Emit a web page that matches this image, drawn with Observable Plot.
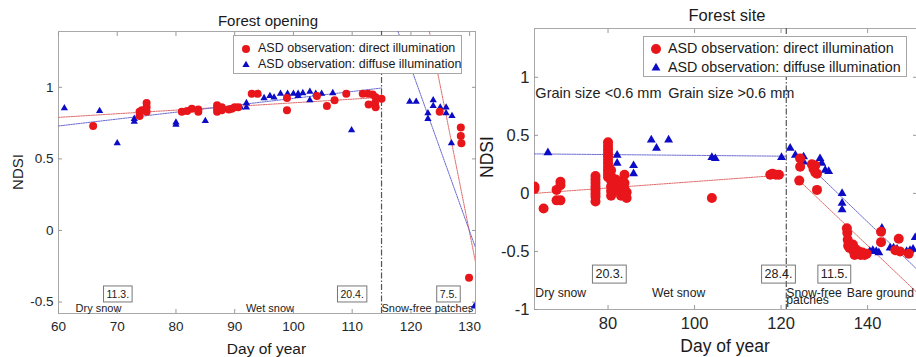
<!DOCTYPE html>
<html><head><meta charset="utf-8">
<script src="https://cdn.jsdelivr.net/npm/d3@7"></script>
<script src="https://cdn.jsdelivr.net/npm/@observablehq/plot@0.6"></script>
<style>
body{margin:0;background:#fff;font-family:"Liberation Sans",Arial,sans-serif;}
#wrap{position:relative;width:916px;height:357px;overflow:hidden;background:#fff;}
.panel{position:absolute;top:0;}
.lbl{position:absolute;white-space:nowrap;color:#1a1a1a;line-height:1;}
.legend{position:absolute;background:#fff;border:1px solid #a6a6a6;box-sizing:border-box;}
.legend .row{position:absolute;white-space:nowrap;color:#1a1a1a;line-height:1;}
.legend svg{position:absolute;overflow:visible;}
</style></head>
<body><div id="wrap"></div>
<script>
// ---------------- Forest opening (left panel) ----------------
const openDirectDay  = [65.9,73.8,73.8,74.2,75,75,75,81,81.9,82.7,83.8,83.8,87,87,87,87.8,87.8,89,89.5,90,90.6,92.9,93.9,98.9,98.9,104,105.7,107,109,111.8,112.7,113.5,114,112.8,114,115,113.9,124.9,128.5,128.5,128.6,129.9];
const openDirectNdsi = [0.73,0.80,0.83,0.84,0.89,0.86,0.83,0.83,0.835,0.85,0.845,0.83,0.874,0.85,0.83,0.86,0.84,0.845,0.85,0.86,0.86,0.955,0.955,0.925,0.84,0.94,0.87,0.91,0.955,0.955,0.955,0.95,0.93,0.88,0.86,0.92,0.89,0.83,0.72,0.66,0.61,-0.33];
const openDiffuseDay  = [61,67,70,72.9,72.9,80,80,85,91,92,92,94,95,96,96.7,97.8,99,100,100.8,100.8,101.6,102.8,102.8,103.8,104.8,106.7,109.9,119.8,120.9,122.9,122.9,123.8,123.8,125,126,126,127,126.9,130.8];
const openDiffuseNdsi = [0.855,0.835,0.61,0.78,0.76,0.755,0.74,0.765,0.86,0.89,0.86,0.955,0.925,0.94,0.93,0.955,0.955,0.955,0.94,0.955,0.96,0.97,0.91,0.955,0.955,0.96,0.70,0.90,0.90,0.82,0.78,0.91,0.87,0.86,0.86,0.82,0.80,0.61,-0.53];
// fitted lines: [series, day, ndsi]
const openFitSeries = ["direct","direct","diffuse","diffuse","directMelt","directMelt","diffuseMelt","diffuseMelt"];
const openFitDay    = [60,115,60,115,123.1,131,117.8,131];
const openFitNdsi   = [0.79,0.93,0.73,0.995,1.40,-0.22,1.39,-0.12];
const openSplitDay = [115];
const openDateLabels = ["11.3.","20.4.","7.5."];
const openDateDays   = [70.1,110,126.4];
const openPhaseLabels = ["Dry snow","Wet snow","Snow-free patches"];
const openPhaseDays   = [62.9,96,115];
const openPhaseAnchor = ["start","middle","start"];
const openXTicks = [60,70,80,90,100,110,120,130];
const openYTicks = [-0.5,0,0.5,1];

// ---------------- Forest site (right panel) ----------------
const siteDirectDay  = [63,63,65.1,68.1,68.1,69,69,69,
  77.1,77.1,77.1,77.1,77.1,77.1,77.1,77.1,
  80,80,80,80,80,80,80,80,80,80,80,
  80.7,80.7,80.7,80.7,80.7,80.7,81.8,81.8,81.8,83,83,83,83.8,83.8,83.8,84.3,84.3,
  104,117.5,118,118.8,119.5,124.4,124.4,124.2,127.1,127.5,127.9,128.3,127.9,128.3,
  135.2,135.3,135.4,135.5,135.8,136.4,136.8,137.2,137.6,138,138.4,138.8,139.3,139.8,136.6,137,
  143.1,143.1,147.2,146.4,147.5,149.5];
const siteDirectNdsi = [0.06,0.04,-0.13,0.03,-0.06,0.10,0.07,-0.06,
  0.15,0.12,0.09,0.06,0.03,0.0,-0.03,-0.07,
  0.44,0.41,0.38,0.35,0.32,0.29,0.26,0.23,0.20,0.17,0.14,
  0.20,0.15,0.11,0.06,0.02,-0.02,0.12,0.08,0.03,0.05,0.10,-0.02,0.16,0.09,0.04,0.01,-0.04,
  -0.04,0.16,0.17,0.16,0.16,0.30,0.23,0.11,0.25,0.21,0.18,0.17,0.24,0.03,
  -0.30,-0.34,-0.40,-0.45,-0.47,-0.47,-0.50,-0.48,-0.52,-0.50,-0.53,-0.51,-0.53,-0.52,-0.44,-0.53,
  -0.33,-0.42,-0.39,-0.49,-0.50,-0.52];
const siteDiffuseDay  = [66.1,82.1,82.1,85.9,85.9,90,91.2,94,104,104.8,120.1,122.1,123.3,125.2,125.2,129,129.4,130.2,131,134.1,134.1,134.1,143.3,140.5,141.2,142,142.6,145.2,146,146.8,149,149.8,150.5,151];
const siteDiffuseNdsi = [0.35,0.33,0.26,0.24,0.17,0.46,0.39,0.46,0.31,0.30,0.31,0.39,0.33,0.315,0.27,0.30,0.26,0.20,0.19,0.0,-0.085,-0.14,-0.30,-0.50,-0.49,-0.50,-0.51,-0.47,-0.47,-0.48,-0.50,-0.49,-0.48,-0.38];
const siteFitSeries = ["direct","direct","diffuse","diffuse","directMelt","directMelt","diffuseMelt","diffuseMelt"];
const siteFitDay    = [63,121.2,63,121.2,124.2,151.3,125.2,151.3];
const siteFitNdsi   = [0.0,0.16,0.34,0.32,0.11,-0.85,0.283,-0.65];
const siteSplitDay = [121.2];
const siteDateLabels = ["20.3.","28.4.","11.5."];
const siteDateDays   = [80.3,119.4,132.3];
const sitePhaseLabels = ["Dry snow","Wet snow","Snow-free\npatches","Bare ground"];
const sitePhaseDays   = [63.2,96.3,121.2,135.2];
const sitePhaseAnchor = ["start","middle","start","start"];
const siteGrainLabels = ["Grain size <0.6 mm","Grain size >0.6 mm"];
const siteGrainDays   = [63.2,93.9];
const siteXTicks = [80,100,120,140];
const siteYTicks = [-1,-0.5,0,0.5,1];

const legendLabels = ["ASD observation: direct illumination","ASD observation: diffuse illumination"];
const RED = "#e8161b", BLUE = "#0c0cc6";
const FONT = "'Liberation Sans', Arial, sans-serif";

function rows(days, vals, extra) { return days.map((d,i)=>Object.assign({day:d, v:vals[i]}, extra?extra(i):{})); }

function panel(cfg) {
  const fits = rows(cfg.fitDay, cfg.fitNdsi, i=>({s:cfg.fitSeries[i]}));
  const fitColor = {direct:"#e06a6a", directMelt:"#e06a6a", diffuse:"#6a6ad0", diffuseMelt:"#6a6ad0"};
  const dates = cfg.dateDays.map((d,i)=>({day:d, t:cfg.dateLabels[i]}));
  const phases = cfg.phaseDays.map((d,i)=>({day:d, t:cfg.phaseLabels[i], a:cfg.phaseAnchor[i]}));
  const marks = [
    Plot.frame({stroke:"#a8a8a8"}),
    Plot.axisX(cfg.xTicks, {anchor:"bottom", tickSize:0, tickPadding:cfg.xPad, label:null, fontSize:cfg.tickFont}),
    Plot.axisX(cfg.xTicks, {anchor:"bottom", tickSize:-4, tickFormat:()=>"", label:null, stroke:"#999"}),
    Plot.axisX(cfg.xTicks, {anchor:"top", tickSize:-4, tickFormat:()=>"", label:null, stroke:"#999"}),
    Plot.axisY(cfg.yTicks, {anchor:"left", tickSize:0, tickPadding:cfg.yPad, label:null, fontSize:cfg.tickFont, tickFormat:d=>String(d)}),
    Plot.axisY(cfg.yTicks, {anchor:"left", tickSize:-4, tickFormat:()=>"", label:null, stroke:"#999"}),
    Plot.axisY(cfg.yTicks, {anchor:"right", tickSize:-4, tickFormat:()=>"", label:null, stroke:"#999"}),
    Plot.ruleX(cfg.splitDay, {stroke:"#555", strokeWidth:1.2, strokeDasharray:"6,2,1.5,2"}),
    ...["direct","diffuse","directMelt","diffuseMelt"].map(s => Plot.line(fits.filter(f=>f.s===s), {x:"day", y:"v", stroke:fitColor[s], strokeWidth:1, strokeDasharray:"1.5,1", clip:true})),
    Plot.dot(rows(cfg.diffDay, cfg.diffNdsi), {x:"day", y:"v", symbol:"triangle", r:cfg.triR, fill:BLUE, clip:true}),
    Plot.dot(rows(cfg.dirDay, cfg.dirNdsi), {x:"day", y:"v", r:cfg.dotR, fill:RED, clip:true}),
    Plot.text(dates, {x:"day", y:cfg.dateY, text:"t", fontSize:cfg.dateFont, fill:"#222"}),
    ...phases.map(p => Plot.text([p], {x:"day", y:cfg.phaseY, text:"t", textAnchor:p.a, fontSize:cfg.annFont, fill:"#222", lineHeight:0.62, lineAnchor:"top"}))
  ];
  if (cfg.grainDays) marks.push(Plot.text(cfg.grainDays.map((d,i)=>({day:d,t:cfg.grainLabels[i]})), {x:"day", y:cfg.grainY, text:"t", textAnchor:"start", fontSize:cfg.grainFont, fill:"#222"}));
  return Plot.plot({
    width:cfg.width, height:357,
    marginLeft:cfg.ml, marginRight:cfg.mr, marginTop:cfg.mt, marginBottom:cfg.mb,
    x:{domain:cfg.xDomain}, y:{domain:cfg.yDomain},
    style:{fontFamily:FONT, color:"#262626", background:"transparent", overflow:"visible"},
    marks
  });
}

const wrap = document.getElementById("wrap");
function place(node, left) { node.classList.add("panel"); node.style.left = left+"px"; wrap.appendChild(node); }

const leftSvg = panel({
  width:480, ml:58, mr:5, mt:31, mb:44, xDomain:[60,131], yDomain:[-0.58,1.39],
  dirDay:openDirectDay, dirNdsi:openDirectNdsi, diffDay:openDiffuseDay, diffNdsi:openDiffuseNdsi,
  fitSeries:openFitSeries, fitDay:openFitDay, fitNdsi:openFitNdsi, splitDay:openSplitDay,
  dateLabels:openDateLabels, dateDays:openDateDays, phaseLabels:openPhaseLabels, phaseDays:openPhaseDays, phaseAnchor:openPhaseAnchor,
  xTicks:openXTicks, yTicks:openYTicks, tickFont:13.5, xPad:8, yPad:5, annFont:11, dateFont:10.5,
  dotR:4, triR:2.7, dateY:-0.448, phaseY:-0.535
});
place(leftSvg, 0);

const rightSvg = panel({
  width:436, ml:54, mr:0, mt:28, mb:48, xDomain:[63,151.3], yDomain:[-1,1.42],
  dirDay:siteDirectDay, dirNdsi:siteDirectNdsi, diffDay:siteDiffuseDay, diffNdsi:siteDiffuseNdsi,
  fitSeries:siteFitSeries, fitDay:siteFitDay, fitNdsi:siteFitNdsi, splitDay:siteSplitDay,
  dateLabels:siteDateLabels, dateDays:siteDateDays, phaseLabels:sitePhaseLabels, phaseDays:sitePhaseDays, phaseAnchor:sitePhaseAnchor,
  grainLabels:siteGrainLabels, grainDays:siteGrainDays, grainY:0.86, grainFont:14.5,
  xTicks:siteXTicks, yTicks:siteYTicks, tickFont:16.5, xPad:8, yPad:5, annFont:12.2, dateFont:12.5,
  dotR:5, triR:3.3, dateY:-0.695, phaseY:-0.843
});
place(rightSvg, 480);

// boxes around the date labels
const allDates = new Set([...openDateLabels, ...siteDateLabels]);
for (const svg of [leftSvg, rightSvg]) {
  svg.querySelectorAll("text").forEach(t => {
    if (!allDates.has(t.textContent)) return;
    const b = t.getBBox();
    const r = document.createElementNS("http://www.w3.org/2000/svg","rect");
    r.setAttribute("x", b.x-3); r.setAttribute("y", b.y-2);
    r.setAttribute("width", b.width+6); r.setAttribute("height", b.height+4);
    r.setAttribute("fill","none"); r.setAttribute("stroke","#777"); r.setAttribute("stroke-width","1");
    const tr = t.getAttribute("transform"); if (tr) r.setAttribute("transform", tr);
    t.parentNode.insertBefore(r, t);
  });
}

function label(text, x, y, size, rotate) {
  const d = document.createElement("div");
  d.className = "lbl"; d.textContent = text;
  d.style.fontSize = size+"px"; d.style.left = x+"px"; d.style.top = y+"px";
  d.style.transform = "translate(-50%,-50%)" + (rotate ? " rotate(-90deg)" : "");
  wrap.appendChild(d);
}
label("Forest opening", 268, 20, 15);
label("Forest site", 727, 15, 16.5);
label("Day of year", 266.5, 349, 15.5);
label("Day of year", 725, 347, 17.5);
label("NDSI", 17, 172, 15, true);
label("NDSI", 488, 157, 17.5, true);

function legend(x, y, w, h, size, symX, textX, rowYs, dotR, triR) {
  const box = document.createElement("div");
  box.className = "legend";
  Object.assign(box.style, {left:x+"px", top:y+"px", width:w+"px", height:h+"px"});
  legendLabels.forEach((txt, i) => {
    const cy = rowYs[i] - y;
    const s = d3.create("svg").attr("width",1).attr("height",1)
      .style("left",(symX-x)+"px").style("top",cy+"px");
    if (i === 0) s.append("circle").attr("r",dotR).attr("fill",RED);
    else s.append("path").attr("d", d3.symbol(d3.symbolTriangle, Math.PI*triR*triR)()).attr("fill",BLUE);
    box.appendChild(s.node());
    const r = document.createElement("div");
    r.className = "row"; r.textContent = txt;
    Object.assign(r.style, {left:(textX-x)+"px", top:(cy - size*0.55)+"px", fontSize:size+"px"});
    box.appendChild(r);
  });
  wrap.appendChild(box);
}
legend(233, 35, 229, 39, 12.5, 245, 257, [48, 64], 4, 2.7);
legend(643, 36, 264, 41, 14.3, 655, 667, [48, 67], 5, 3.3);
</script></body></html>
